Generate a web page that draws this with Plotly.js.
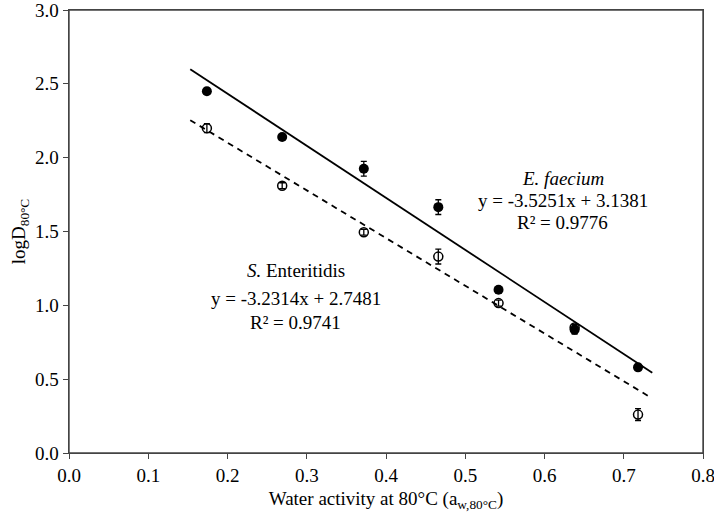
<!DOCTYPE html>
<html><head><meta charset="utf-8">
<script src="https://cdn.plot.ly/plotly-3.0.1.min.js"></script>
<style>html,body{margin:0;padding:0;background:#fff;overflow:hidden}#chart{width:714px;height:514px}</style>
</head><body><div id="chart"></div>
<script>
const aw = [0.174, 0.269, 0.372, 0.466, 0.542, 0.638, 0.718];
const efaecium = [2.45, 2.14, 1.925, 1.665, 1.105, 0.835, 0.58];
const efaeciumErr = [0.02, 0.02, 0.05, 0.05, 0.02, 0.03, 0.02];
const senteritidis = [2.20, 1.81, 1.495, 1.33, 1.015, 0.85, 0.26];
const senteritidisErr = [0.03, 0.02, 0.02, 0.05, 0.02, 0.02, 0.04];
const fitE = {slope: -3.5251, intercept: 3.1381, xr: [0.153, 0.736]};
const fitS = {slope: -3.2314, intercept: 2.7481, xr: [0.153, 0.731]};
const xTicks = [0, 0.1, 0.2, 0.3, 0.4, 0.5, 0.6, 0.7, 0.8];
const yTicks = [0, 0.5, 1.0, 1.5, 2.0, 2.5, 3.0];

const font = 'Liberation Serif, Times New Roman, serif';
const lineFrom = f => ({x: f.xr, y: f.xr.map(v => f.slope * v + f.intercept)});
const lE = lineFrom(fitE), lS = lineFrom(fitS);

const traces = [
  {x: lE.x, y: lE.y, mode: 'lines', line: {color: '#000', width: 1.8}, hoverinfo: 'skip'},
  {x: lS.x, y: lS.y, mode: 'lines', line: {color: '#000', width: 1.8, dash: '6px,5px'}, hoverinfo: 'skip'},
  {x: aw, y: senteritidis, mode: 'markers',
   marker: {symbol: 'circle-open', size: 9, color: '#000', line: {width: 1.5, color: '#000'}},
   error_y: {type: 'data', array: senteritidisErr, visible: true, color: '#000', thickness: 1.3, width: 3}},
  {x: aw, y: efaecium, mode: 'markers',
   marker: {symbol: 'circle', size: 10, color: '#000'},
   error_y: {type: 'data', array: efaeciumErr, visible: true, color: '#000', thickness: 1.3, width: 3}}
];

const axCommon = {showgrid: false, zeroline: false, showline: true, linecolor: '#444', linewidth: 1.4,
  mirror: true, ticks: 'outside', ticklen: 5, tickcolor: '#444', tickmode: 'array',
  ticklabeloverflow: 'allow',
  tickfont: {family: font, size: 19, color: '#000'}};

const layout = {
  width: 714, height: 514,
  margin: {l: 69, r: 11, t: 10, b: 61},
  paper_bgcolor: '#fff', plot_bgcolor: '#fff',
  showlegend: false,
  font: {family: font, size: 19, color: '#000'},
  xaxis: Object.assign({}, axCommon, {range: [0, 0.8], tickvals: xTicks, ticktext: xTicks.map(v => v.toFixed(1)),
    title: {text: 'Water activity at 80°C (a<sub>w,80°C</sub>)', font: {family: font, size: 19, color: '#000'}, standoff: 6}}),
  yaxis: Object.assign({}, axCommon, {range: [0, 3], tickvals: yTicks, ticktext: yTicks.map(v => v.toFixed(1)),
    title: {text: 'logD<sub>80°C</sub>', font: {family: font, size: 19, color: '#000'}, standoff: 4}}),
  shapes: [{type: 'rect', xref: 'paper', yref: 'paper', x0: 0, x1: 1, y0: 0, y1: 1, line: {color: '#444', width: 1.4}, layer: 'above'}],
  annotations: [
    {x: 0.623, y: 1.861, xref: 'x', yref: 'y', text: '<i>E. faecium</i>', showarrow: false, font: {family: font, size: 19}},
    {x: 0.623, y: 1.713, xref: 'x', yref: 'y', text: 'y = -3.5251x + 3.1381', showarrow: false, font: {family: font, size: 19}},
    {x: 0.623, y: 1.564, xref: 'x', yref: 'y', text: 'R² = 0.9776', showarrow: false, font: {family: font, size: 19}},
    {x: 0.286, y: 1.234, xref: 'x', yref: 'y', text: '<i>S.</i> Enteritidis', showarrow: false, font: {family: font, size: 19}},
    {x: 0.286, y: 1.045, xref: 'x', yref: 'y', text: 'y = -3.2314x + 2.7481', showarrow: false, font: {family: font, size: 19}},
    {x: 0.286, y: 0.883, xref: 'x', yref: 'y', text: 'R² = 0.9741', showarrow: false, font: {family: font, size: 19}}
  ]
};
Plotly.newPlot('chart', traces, layout, {displayModeBar: false, staticPlot: true});
</script></body></html>
